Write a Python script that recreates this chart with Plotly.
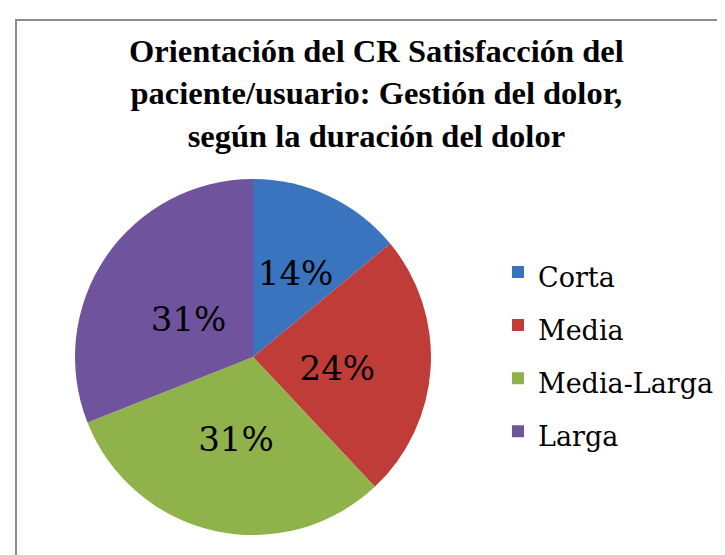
import plotly.graph_objects as go

# datos del grafico
categorias = ["Corta", "Media", "Media-Larga", "Larga"]
porcentajes = [14, 24, 31, 31]
colores = ["#3A74BF", "#BF3C39", "#8FB24A", "#6F539C"]

titulo = ("Orientación del CR Satisfacción del<br>"
          "paciente/usuario: Gestión del dolor,<br>"
          "según la duración del dolor")

W, H = 725, 555
CX, CY, R = 253 - 8, 357 - 8, 178   # centro y radio del pie (px), con la correccion del desplazamiento

def dominio(radio, dy=0):
    cy = CY + dy
    return dict(x=[(CX - radio) / W, (CX + radio) / W],
                y=[(H - cy - radio) / H, (H - cy + radio) / H])

# la leyenda usa un font grande para separar las filas, el texto va en un span mas chico
etiquetas_leyenda = ['<span style="font-size:27px">%s</span>' % c for c in categorias]

fig = go.Figure()
# pie principal (colores + leyenda)
fig.add_trace(go.Pie(
    labels=etiquetas_leyenda,
    values=porcentajes,
    sort=False,
    direction="clockwise",
    rotation=0,
    marker=dict(colors=colores, line=dict(width=0)),
    textinfo="none",
    domain=dominio(R),
    hoverinfo="label+percent",
))
# pie transparente mas chico solo para ubicar los porcentajes mas cerca del centro
fig.add_trace(go.Pie(
    labels=categorias,
    values=porcentajes,
    sort=False,
    direction="clockwise",
    rotation=0,
    marker=dict(colors=["rgba(0,0,0,0)"] * len(categorias), line=dict(width=0)),
    texttemplate="%{percent:.0%}",
    textposition="inside",
    insidetextorientation="horizontal",
    textfont=dict(family="DejaVu Serif", size=34, color="black"),
    domain=dominio(0.8 * R, dy=6),
    hoverinfo="skip",
    showlegend=False,
))

fig.update_layout(
    width=W, height=H,
    margin=dict(l=0, r=0, t=0, b=0),
    paper_bgcolor="white",
    uniformtext=dict(minsize=34, mode="show"),
    annotations=[dict(
        text=titulo, showarrow=False,
        xref="paper", yref="paper", x=368 / W, y=1 - 86 / H,
        xanchor="center", yanchor="middle",
        font=dict(family="Liberation Serif", size=32.5, color="black", weight="bold"),
    )],
    legend=dict(
        x=490 / W, y=1 - 344 / H, xanchor="left", yanchor="middle",
        font=dict(family="DejaVu Serif", size=38.5, color="black"),
        bgcolor="rgba(0,0,0,0)",
    ),
    shapes=[dict(
        type="rect", xref="paper", yref="paper",
        x0=8 / W, x1=1.05, y0=-0.05, y1=1 - 12 / H,
        line=dict(color="#8C8C8C", width=2), fillcolor="rgba(0,0,0,0)",
        layer="below",
    )],
)

fig.write_html("out.html")
